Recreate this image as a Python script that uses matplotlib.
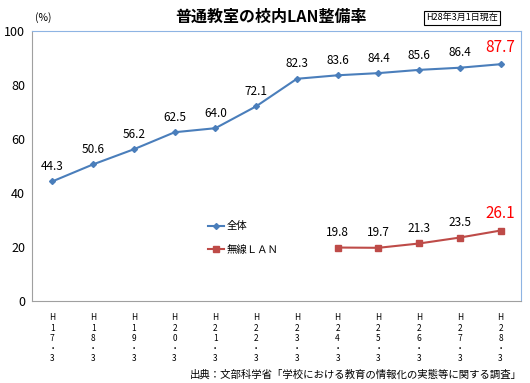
import matplotlib
matplotlib.use('Agg')
import matplotlib.pyplot as plt

plt.rcParams['font.family'] = ['Noto Sans CJK JP', 'DejaVu Sans']

# Data
years = ["H17.3", "H18.3", "H19.3", "H20.3", "H21.3", "H22.3",
         "H23.3", "H24.3", "H25.3", "H26.3", "H27.3", "H28.3"]
total = [44.3, 50.6, 56.2, 62.5, 64.0, 72.1, 82.3, 83.6, 84.4, 85.6, 86.4, 87.7]
wireless_years = years[7:]
wireless = [19.8, 19.7, 21.3, 23.5, 26.1]
yticks = [0, 20, 40, 60, 80, 100]

blue = "#4A7EBB"
red = "#BE4B48"

fig = plt.figure(figsize=(5.30, 3.83), dpi=100)
ax = fig.add_axes([32 / 530, 1 - 301 / 383, 489 / 530, 270 / 383])

x_all = list(range(len(years)))
x_wl = [years.index(y) for y in wireless_years]

ax.plot(x_all, total, color=blue, lw=1.5, marker="D", ms=3, label="全体")
ax.plot(x_wl, wireless, color=red, lw=1.5, marker="s", ms=4, label="無線ＬＡＮ")

for i, v in zip(x_all, total):
    last = i == len(total) - 1
    ax.annotate(f"{v:.1f}", (i, v), xytext=(0, 6), textcoords="offset points",
                ha="center", va="bottom", fontsize=11 if last else 8.5,
                color="#FF0000" if last else "black")
for i, v in zip(x_wl, wireless):
    last = i == x_wl[-1]
    ax.annotate(f"{v:.1f}", (i, v), xytext=(0, 6), textcoords="offset points",
                ha="center", va="bottom", fontsize=11 if last else 8.5,
                color="#FF0000" if last else "black")

ax.set_xlim(-0.5, len(years) - 0.5)
ax.set_ylim(0, 100)
ax.set_yticks(yticks)
ax.set_yticklabels([str(t) for t in yticks], fontsize=9)
ax.set_xticks(x_all)
ax.set_xticklabels(["\n".join([y[0], y[1], y[2], "・", y[4]]) for y in years],
                   fontsize=6, linespacing=1.15)
ax.tick_params(axis="both", length=0)
ax.tick_params(axis="x", pad=9)
ax.tick_params(axis="y", pad=5)

for side in ["left", "bottom"]:
    ax.spines[side].set_color("#A0A0A0")
for side in ["top", "right"]:
    ax.spines[side].set_color("#8EB4E3")

leg = ax.legend(loc="upper left", bbox_to_anchor=(0.34, 0.33), frameon=False,
                fontsize=7.5, handlelength=1.6, handletextpad=0.2,
                labelspacing=1.3)

fig.text(271 / 530, 1 - 17 / 383, "普通教室の校内LAN整備率", ha="center", va="center",
         fontsize=11.5, fontweight="bold")
fig.text(43 / 530, 1 - 18 / 383, "(%)", ha="center", va="center", fontsize=7.5)
fig.text(462 / 530, 1 - 18 / 383, "H28年3月1日現在", ha="center", va="center",
         fontsize=6.5,
         bbox=dict(boxstyle="square,pad=0.25", fc="white", ec="black", lw=0.8))
fig.text(522 / 530, 1 - 375 / 383, "出典：文部科学省「学校における教育の情報化の実態等に関する調査」",
         ha="right", va="center", fontsize=7.5)

fig.savefig("out.png", dpi=100)
